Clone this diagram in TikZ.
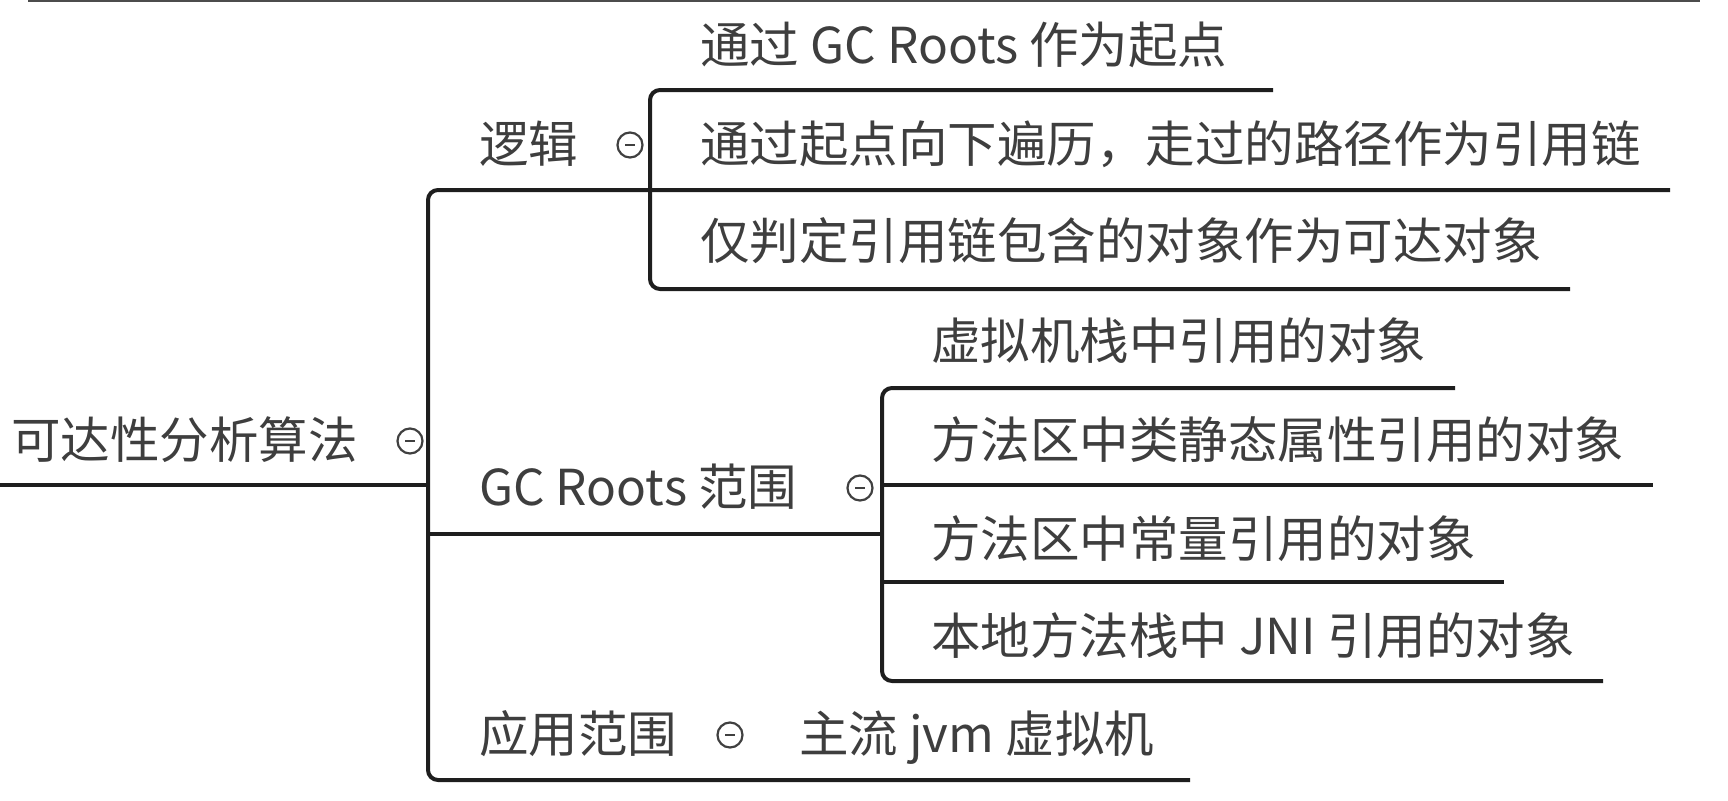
\documentclass[tikz,border=0pt]{standalone}
\usepackage{fontspec}
\setmainfont{Noto Sans CJK SC}
\definecolor{inkline}{HTML}{1E1E1E}
\definecolor{inktext}{HTML}{3E3E3E}
\tikzset{
  topic/.style={anchor=west, inner sep=0pt, text=inktext, text height=0.88em, text depth=0.12em,
    yshift=-14pt, font=\fontsize{49.5}{59}\selectfont},
  branch/.style={draw=inkline, line width=4pt, rounded corners=10pt},
  fold/.style={circle, draw=inkline!85, line width=2.2pt, minimum size=25pt, inner sep=0pt,
    path picture={\draw[inkline!85, line width=1.5pt]
      ([xshift=-5pt]path picture bounding box.center) -- ([xshift=5pt]path picture bounding box.center);}},
}
\begin{document}
\begin{tikzpicture}[x=1pt,y=-1pt]
  \useasboundingbox (0,0) rectangle (1728,800);
  \draw[gray!60!black, line width=2.5pt] (28,1) -- (1700,1);
  % topics
  \node[topic] (root) at (11,441) {可达性分析算法};
  \node[fold] (root-fold) at (410,441) {};
  \node[topic] (logic) at (479,145) {逻辑};
  \node[fold] (logic-fold) at (630,145) {};
  \node[topic] (logic-1) at (700,46) {通过 GC Roots 作为起点};
  \node[topic] (logic-2) at (700,145) {通过起点向下遍历，走过的路径作为引用链};
  \node[topic] (logic-3) at (700,242) {仅判定引用链包含的对象作为可达对象};
  \node[topic] (gc) at (479,488) {GC Roots 范围};
  \node[fold] (gc-fold) at (860,488) {};
  \node[topic] (gc-1) at (931,342) {虚拟机栈中引用的对象};
  \node[topic] (gc-2) at (931,441) {方法区中类静态属性引用的对象};
  \node[topic] (gc-3) at (931,540) {方法区中常量引用的对象};
  \node[topic] (gc-4) at (931,637) {本地方法栈中 JNI 引用的对象};
  \node[topic] (use) at (479,735) {应用范围};
  \node[fold] (use-fold) at (730,735) {};
  \node[topic] (use-1) at (799,735) {主流 jvm 虚拟机};
  % underline ends
  \coordinate (root-u) at (0,485);
  \coordinate (trunk) at (428,485);
  \coordinate (trunk-top) at (428,190);
  \coordinate (trunk-bot) at (428,780);
  \coordinate (logic-top) at (650,90);
  \coordinate (logic-bot) at (650,289);
  \coordinate (logic-1-u) at (1273,90);
  \coordinate (logic-2-u) at (1670,190);
  \coordinate (logic-3-u) at (1570,289);
  \coordinate (gc-u) at (882,534);
  \coordinate (gc-top) at (882,388);
  \coordinate (gc-bot) at (882,681);
  \coordinate (gc-1-u) at (1455,388);
  \coordinate (gc-2-u) at (1653,485);
  \coordinate (gc-3-u) at (1504,582);
  \coordinate (gc-4-u) at (1603,681);
  \coordinate (use-1-u) at (1190,780);
  % connectors
  \draw[branch] (root-u) -- (trunk);
  \draw[branch] (logic-2-u) -- (trunk-top) -- (trunk-bot) -- (use-1-u);
  \draw[branch] (logic-1-u) -- (logic-top) -- (logic-bot) -- (logic-3-u);
  \draw[branch] (trunk |- gc-u) -- (gc-u);
  \draw[branch] (gc-1-u) -- (gc-top) -- (gc-bot) -- (gc-4-u);
  \draw[branch] (gc-top |- gc-2-u) -- (gc-2-u);
  \draw[branch] (gc-top |- gc-3-u) -- (gc-3-u);
\end{tikzpicture}
\end{document}
